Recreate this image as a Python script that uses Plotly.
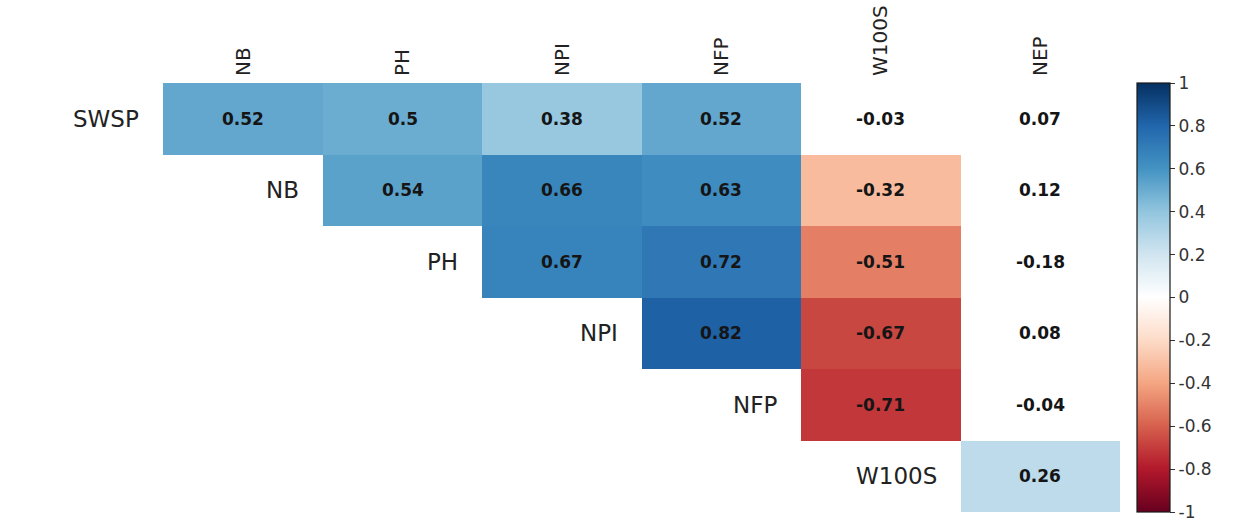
import plotly.graph_objects as go

variables = ["SWSP", "NB", "PH", "NPI", "NFP", "W100S", "NEP"]
row_vars = ["SWSP", "NB", "PH", "NPI", "NFP", "W100S"]
col_vars = ["NB", "PH", "NPI", "NFP", "W100S", "NEP"]

# upper-triangle correlations, row by row (row var vs later vars)
corr_swsp = [0.52, 0.50, 0.38, 0.52, -0.03, 0.07]
corr_nb = [0.54, 0.66, 0.63, -0.32, 0.12]
corr_ph = [0.67, 0.72, -0.51, -0.18]
corr_npi = [0.82, -0.67, 0.08]
corr_nfp = [-0.71, -0.04]
corr_w100s = [0.26]

# cells drawn blank (non-significant)
blank_swsp = [False, False, False, False, True, True]
blank_nb = [False, False, False, False, True]
blank_ph = [False, False, False, True]
blank_npi = [False, False, True]
blank_nfp = [False, True]
blank_w100s = [False]

colorbar_ticks = [1, 0.8, 0.6, 0.4, 0.2, 0, -0.2, -0.4, -0.6, -0.8, -1]
colorbar_ticktext = ["1", "0.8", "0.6", "0.4", "0.2", "0", "-0.2", "-0.4", "-0.6", "-0.8", "-1"]

palette = ["#67001F", "#B2182B", "#D6604D", "#F4A582", "#FDDBC7", "#FFFFFF",
           "#D1E5F0", "#92C5DE", "#4393C3", "#2166AC", "#053061"]
colorscale = [[i / (len(palette) - 1), c] for i, c in enumerate(palette)]

rows_vals = [corr_swsp, corr_nb, corr_ph, corr_npi, corr_nfp, corr_w100s]
rows_blank = [blank_swsp, blank_nb, blank_ph, blank_npi, blank_nfp, blank_w100s]

n = len(variables)
z = []
cells = []
for ri, rv in enumerate(row_vars):
    i = variables.index(rv)
    zrow = [None] * n
    for k, val in enumerate(rows_vals[ri]):
        j = i + 1 + k
        if not rows_blank[ri][k]:
            zrow[j] = val
        cells.append((j, ri, val))
    z.append(zrow)

fig = go.Figure()
fig.add_trace(go.Heatmap(
    z=z,
    x=list(range(n)),
    y=list(range(len(row_vars))),
    zmin=-1, zmax=1,
    colorscale=colorscale,
    hoverinfo="skip",
    xgap=0, ygap=0,
    colorbar=dict(
        x=1.0152, xanchor="left", xref="paper", xpad=0, ypad=0,
        y=0.5, yanchor="middle", len=1.0, lenmode="fraction",
        thickness=33, thicknessmode="pixels",
        outlinewidth=1.2, outlinecolor="#1a1a1a",
        ticks="outside", ticklen=5, tickcolor="#333", tickwidth=1,
        tickvals=colorbar_ticks, ticktext=colorbar_ticktext,
        tickfont=dict(family="DejaVu Sans", size=17, color="#333"),
    ),
))

annotations = []
for j, ri, val in cells:
    txt = f"{val:g}"
    annotations.append(dict(
        x=j, y=ri, xref="x", yref="y", text=f"<b>{txt}</b>", showarrow=False,
        font=dict(family="DejaVu Sans", size=17, color="#151515"),
    ))
for ri, rv in enumerate(row_vars):
    i = variables.index(rv)
    annotations.append(dict(
        x=i + 0.5, y=ri, xref="x", yref="y", text=rv, showarrow=False,
        xanchor="right", xshift=-22,
        font=dict(family="DejaVu Sans", size=23, color="#222"),
    ))

fig.update_layout(
    width=1244, height=522,
    margin=dict(l=4, r=124, t=83, b=10, autoexpand=False),
    paper_bgcolor="white", plot_bgcolor="white",
    annotations=annotations,
    xaxis=dict(
        range=[-0.5, n - 0.5], side="top", automargin=False,
        tickvals=[variables.index(c) for c in col_vars], ticktext=col_vars,
        tickangle=-90, showgrid=False, zeroline=False, showline=False,
        ticks="", ticklen=0, ticklabelstandoff=6,
        tickfont=dict(family="DejaVu Sans", size=20, color="#222"),
    ),
    yaxis=dict(
        range=[len(row_vars) - 0.5, -0.5], showticklabels=False, automargin=False,
        showgrid=False, zeroline=False, showline=False, ticks="",
    ),
)

fig.write_html("out.html", config={"displayModeBar": False},
               post_script="document.body.style.margin='0';")
